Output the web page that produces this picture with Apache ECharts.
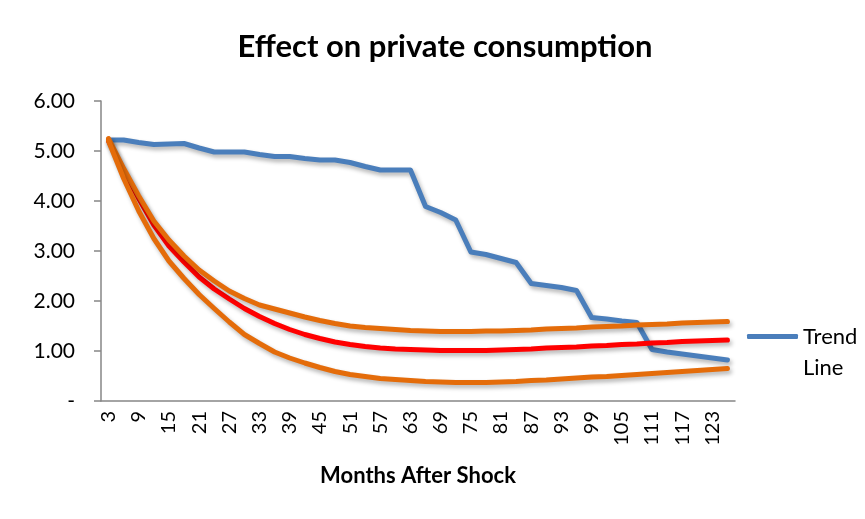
<!DOCTYPE html>
<html>
<head>
<meta charset="utf-8">
<script src="https://cdn.jsdelivr.net/npm/echarts@6/dist/echarts.min.js"></script>
<style>
  html, body { margin: 0; padding: 0; background: #fff; }
  #c1 { width: 865px; height: 519px; }
</style>
</head>
<body>
<div id="c1"></div>
<script>
// months after shock, 3..126
var months = [3, 6, 9, 12, 15, 18, 21, 24, 27, 30, 33, 36, 39, 42, 45, 48, 51, 54, 57, 60,
  63, 66, 69, 72, 75, 78, 81, 84, 87, 90, 93, 96, 99, 102, 105, 108, 111, 114, 117, 120, 123, 126];

var trendLine = [5.22, 5.22, 5.17, 5.13, 5.14, 5.15, 5.06, 4.98, 4.98, 4.98, 4.93, 4.89, 4.89, 4.85,
  4.82, 4.82, 4.77, 4.69, 4.62, 4.62, 4.62, 3.89, 3.77, 3.62, 2.98, 2.93, 2.85, 2.77, 2.35, 2.31,
  2.27, 2.21, 1.67, 1.64, 1.60, 1.57, 1.03, 0.98, 0.94, 0.90, 0.86, 0.82];

var midCurve = [5.20, 4.62, 4.05, 3.52, 3.10, 2.78, 2.48, 2.24, 2.04, 1.85, 1.69, 1.55, 1.43, 1.33,
  1.25, 1.18, 1.13, 1.09, 1.06, 1.04, 1.03, 1.02, 1.01, 1.01, 1.01, 1.01, 1.02, 1.03, 1.04, 1.06,
  1.07, 1.08, 1.10, 1.11, 1.13, 1.14, 1.16, 1.17, 1.19, 1.20, 1.21, 1.22];

var upperBand = [5.25, 4.65, 4.10, 3.60, 3.22, 2.90, 2.62, 2.40, 2.20, 2.05, 1.92, 1.84, 1.76, 1.68,
  1.61, 1.55, 1.50, 1.47, 1.45, 1.43, 1.41, 1.40, 1.39, 1.39, 1.39, 1.40, 1.40, 1.41, 1.42, 1.44,
  1.45, 1.46, 1.48, 1.49, 1.50, 1.52, 1.53, 1.54, 1.56, 1.57, 1.58, 1.59];

var lowerBand = [5.20, 4.45, 3.80, 3.25, 2.80, 2.45, 2.13, 1.85, 1.58, 1.33, 1.15, 0.98, 0.86, 0.76,
  0.67, 0.59, 0.53, 0.49, 0.45, 0.43, 0.41, 0.39, 0.38, 0.37, 0.37, 0.37, 0.38, 0.39, 0.41, 0.42,
  0.44, 0.46, 0.48, 0.49, 0.51, 0.53, 0.55, 0.57, 0.59, 0.61, 0.63, 0.65];

var myChart = echarts.init(document.getElementById('c1'));
var font = 'Lato, "Open Sans", sans-serif';
var axisGray = '#868686';
var shadow = { shadowColor: 'rgba(0,0,0,0.3)', shadowBlur: 4, shadowOffsetX: 2, shadowOffsetY: 3 };

function lineSeries(name, data, color) {
  return {
    name: name,
    type: 'line',
    data: data,
    symbol: 'none',
    smooth: false,
    lineStyle: Object.assign({ color: color, width: 5, cap: 'round', join: 'round' }, shadow),
    itemStyle: { color: color }
  };
}

var option = {
  animation: false,
  backgroundColor: '#fff',
  title: {
    text: 'Effect on private consumption',
    left: 440,
    textAlign: 'center',
    top: 26,
    textStyle: { fontFamily: font, fontSize: 31, fontWeight: 'bold', color: '#000' }
  },
  legend: {
    data: ['Trend Line'],
    left: 747,
    top: 290,
    padding: 0,
    itemWidth: 51,
    itemHeight: 5,
    icon: 'roundRect',
    // blank first line keeps "Trend" level with the line icon
    formatter: function () { return ' \nTrend\nLine'; },
    textStyle: { fontFamily: font, fontSize: 22, color: '#000', lineHeight: 31 }
  },
  grid: { left: 101, right: 130, top: 101, bottom: 118 },
  xAxis: {
    type: 'category',
    data: months,
    name: 'Months After Shock',
    nameLocation: 'middle',
    nameGap: 64,
    nameTextStyle: { fontFamily: font, fontSize: 22, fontWeight: 'bold', color: '#000' },
    axisLine: { lineStyle: { color: axisGray, width: 1.5 } },
    axisTick: { interval: 0, length: 6, lineStyle: { color: axisGray, width: 1.5 } },
    axisLabel: { interval: 1, rotate: 90, margin: 10, fontFamily: font, fontSize: 20, color: '#000' },
    splitLine: { show: false }
  },
  yAxis: {
    type: 'value',
    min: 0,
    max: 6,
    interval: 1,
    axisLine: { show: true, lineStyle: { color: axisGray, width: 1.5 } },
    axisTick: { show: true, length: 7, lineStyle: { color: axisGray, width: 1.5 } },
    axisLabel: {
      margin: 26, fontFamily: font, fontSize: 21, color: '#000',
      formatter: function (v) { return v === 0 ? '-' : v.toFixed(2); }
    },
    splitLine: { show: false }
  },
  series: [
    lineSeries('Trend Line', trendLine, '#4A7EBB'),
    lineSeries('Mid', midCurve, '#FF0000'),
    lineSeries('Upper', upperBand, '#E46C0A'),
    lineSeries('Lower', lowerBand, '#E46C0A')
  ]
};
myChart.setOption(option);
</script>
</body>
</html>
